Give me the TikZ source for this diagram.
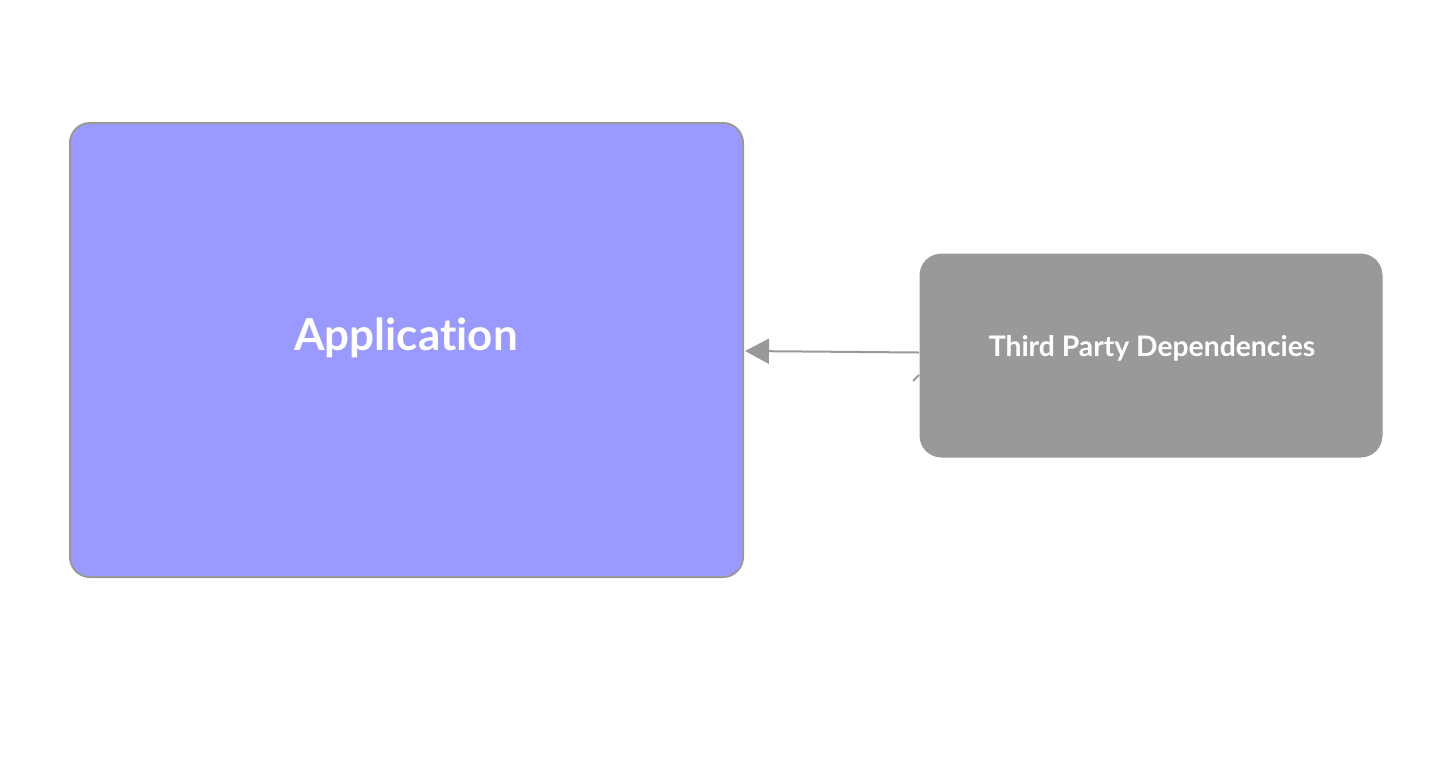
\documentclass[tikz,border=0pt]{standalone}
\usepackage{fontspec}
\setmainfont{Lato}[Ligatures={NoCommon}]
\usetikzlibrary{arrows.meta}
\definecolor{appfill}{HTML}{9999FF}
\definecolor{grayc}{HTML}{999999}
\tikzset{
  appbox/.style={draw=grayc, line width=2pt, fill=appfill, rounded corners=20pt},
  depbox/.style={draw=white, line width=1pt, fill=grayc, rounded corners=22pt},
  lbl/.style={text=white, font=\bfseries, anchor=base},
  conn/.style={draw=grayc, line width=2pt, -{Triangle[length=24pt,width=25pt]}}
}
\begin{document}
\begin{tikzpicture}[x=1pt,y=-1pt]
\useasboundingbox (0,0) rectangle (1431,756);
\draw[appbox] (70,123) rectangle (743,577);
\draw[depbox] (919,253) rectangle (1383,458);
\node[lbl, font=\bfseries\fontsize{44}{50}\selectfont] (app) at (406,350) {Application};
\node[lbl, font=\bfseries\fontsize{28.3}{34}\selectfont] (dep) at (1152,356) {Third Party Dependencies};
\coordinate (appR) at (745,351);
\coordinate (depL) at (919,352.5);
\draw[conn] (depL) -- (appR);
\coordinate (t1) at (913,381);
\coordinate (t2) at (919,375);
\draw[grayc, line width=2pt] (t1) -- (t2);
\end{tikzpicture}
\end{document}
